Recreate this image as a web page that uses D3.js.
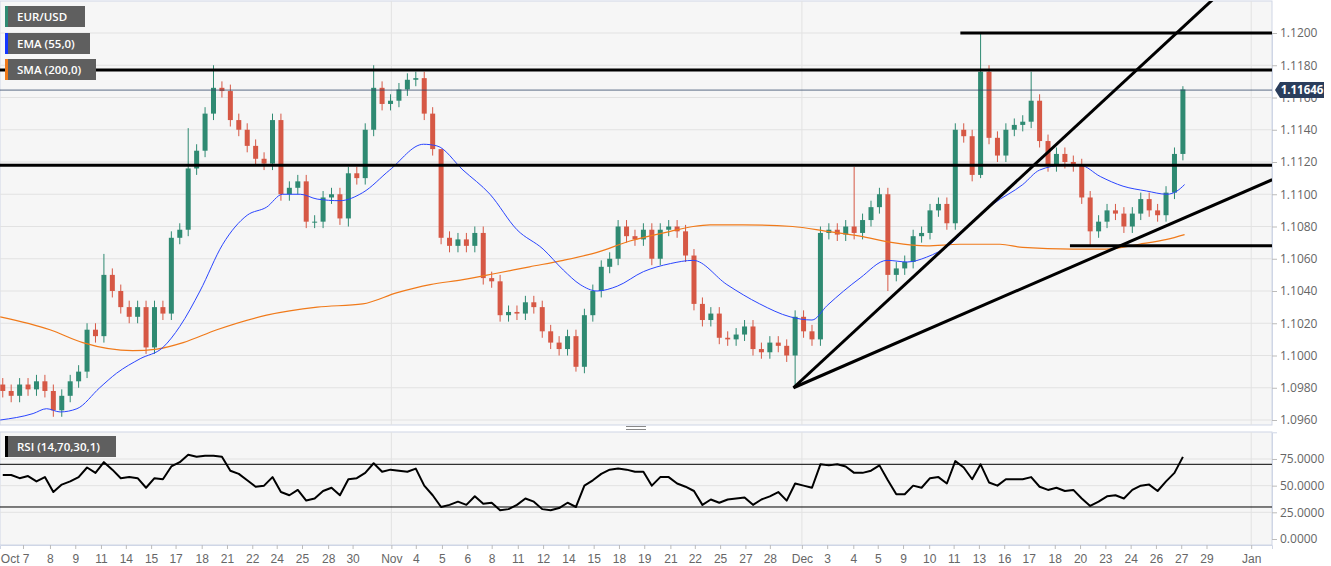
<!DOCTYPE html>
<html><head><meta charset="utf-8">
<script src="https://cdn.jsdelivr.net/npm/d3@7"></script>
<style>
body{margin:0;background:#fff;font-family:"Open Sans",Arial,sans-serif}
</style></head>
<body><div id="chart"></div>
<script>
// candle closes, one per bar (open = previous close)
const closes = [1.0978,1.0975,1.0982,1.0979,1.0984,1.0978,1.0966,1.0975,1.0984,1.0990,
1.1016,1.1012,1.1050,1.1040,1.1030,1.1024,1.1030,1.1005,1.1030,1.1026,
1.1073,1.1078,1.1116,1.1127,1.1150,1.1166,1.1164,1.1146,1.1140,1.1130,
1.1122,1.1119,1.1146,1.1100,1.1104,1.1108,1.1083,1.1083,1.1098,1.1100,
1.1085,1.1113,1.1110,1.1140,1.1166,1.1156,1.1158,1.1165,1.1171,1.1172,
1.1150,1.1128,1.1073,1.1068,1.1072,1.1068,1.1076,1.1048,1.1046,1.1025,
1.1027,1.1026,1.1033,1.1030,1.1015,1.1008,1.1004,1.1012,1.0993,1.1025,
1.1040,1.1055,1.1060,1.1080,1.1074,1.1072,1.1078,1.1060,1.1078,1.1080,
1.1077,1.1062,1.1032,1.1022,1.1026,1.1011,1.1010,1.1013,1.1018,1.1004,
1.1002,1.1008,1.1006,1.1000,1.1024,1.1015,1.1010,1.1076,1.1078,1.1075,
1.1080,1.1076,1.1084,1.1092,1.1100,1.1050,1.1054,1.1058,1.1074,1.1076,
1.1090,1.1094,1.1082,1.1140,1.1136,1.1112,1.1176,1.1135,1.1124,1.1140,
1.1143,1.1145,1.1158,1.1133,1.1118,1.1125,1.1120,1.1118,1.1098,1.1077,
1.1083,1.1090,1.1088,1.1080,1.1088,1.1097,1.1090,1.1087,1.1101,1.1125,1.1165];
const firstOpen = 1.0982;
// long wicks: [bar, high, low]
const wicks = [[12,1.1063,null],[22,1.1141,null],[25,1.1180,null],[41,null,1.1080],[44,1.1180,null],
[52,1.1120,null],[68,null,1.0990],[94,null,1.0980],[101,1.1117,null],[105,null,1.1040],
[116,1.1200,1.1110],[122,1.1176,null],[129,null,1.1068],[140,1.1167,null]];

const rsi = [60,60,57,59,54,58,44,51,54,58,67,62,72,65,57,58,57,48,57,56,
68,72,79,77,78,78,77,64,61,55,49,50,58,44,41,46,36,38,45,48,
41,56,57,62,71,63,65,64,63,66,50,41,30,32,35,32,40,33,34,27,
28,32,38,35,28,27,29,34,30,50,55,61,65,66,65,63,63,50,58,58,
52,49,45,32,37,34,37,38,39,32,37,40,44,36,52,50,48,70,69,70,
68,62,62,64,69,55,42,42,50,48,57,58,52,73,67,56,70,53,50,56,
56,56,58,49,46,48,45,46,38,31,35,40,41,38,46,50,51,45,54,62,77];

// moving averages: [bar, value]
const ema55 = [[-0.3,1.0960],[3.6,1.0964],[5.2,1.0967],[6.8,1.0965],[8.8,1.0967],[11.5,1.0980],[13.5,1.0989],
[16.3,1.0998],[19,1.1005],[21,1.1018],[23.4,1.1040],[26.1,1.1069],[29,1.1087],[31.3,1.1092],[33.2,1.1100],
[35.3,1.1100],[37.3,1.1097],[40,1.1096],[42.7,1.1101],[45.9,1.1115],[49.9,1.1131],[51.5,1.1130],[54.6,1.1115],
[57.8,1.1100],[61,1.1078],[64.1,1.1066],[66.5,1.1053],[68.5,1.1044],[70.5,1.1040],[72.9,1.1043],[76,1.1052],
[79.2,1.1057],[81.9,1.1059],[85.9,1.1044],[89.8,1.1032],[93.4,1.1024],[96,1.1022],[97.8,1.1031],[101.7,1.1048],
[104.9,1.1059],[107.3,1.1058],[109.6,1.1061],[112.4,1.1069],[115.6,1.1086],[117.5,1.1094],[121,1.1106],
[123,1.1115],[125.8,1.1118],[127.8,1.1118],[130.2,1.1111],[132.9,1.1105],[135.7,1.1102],[138.1,1.1100],
[139.3,1.1102],[140.2,1.1106]];
const sma200 = [[-0.3,1.1024],[5.6,1.1016],[9.5,1.1008],[15.4,1.1003],[18.3,1.1004],[21.4,1.1008],[25.4,1.1016],
[31.3,1.1025],[37.3,1.1030],[42.7,1.1032],[46.8,1.1039],[50.7,1.1044],[54.6,1.1047],[58.6,1.1051],[62.5,1.1055],
[66.5,1.1059],[70.5,1.1064],[74.4,1.1071],[79.2,1.1077],[81.9,1.1080],[83.9,1.1081],[87.8,1.1081],[93.7,1.1080],
[97.8,1.1077],[101.7,1.1074],[105.6,1.1070],[109.6,1.1068],[113.5,1.1069],[118.3,1.1069],[121,1.1067],
[126.9,1.1066],[130.9,1.1066],[134.8,1.1069],[138.1,1.1072],[140.2,1.1075]];

const tickPos = [2.4,5.6,8.6,11.65,14.6,17.6,20.5,23.6,26.6,29.6,32.5,35.5,38.6,41.5,46.1,49,52.1,55.1,58,61.1,
64.1,67.1,70.1,73.1,76.1,79.2,82.1,85.1,88.1,91,94.8,97.8,100.9,103.8,106.8,109.9,112.8,115.8,118.8,121.7,
124.8,127.8,130.8,133.8,136.8,139.8,142.8,148.1];
const tickLab = ['Oct 7','8','9','11','14','15','17','18','21','22','24','25','28','30','Nov','4','5','6','8','11',
'12','14','15','18','19','21','22','25','27','28','Dec','3','4','5','9','10','11','13','16','17',
'18','20','23','24','26','27','29','Jan'];
const monthTicks = [46.1,94.8,148.1];
const priceTicks = [1.0960,1.0980,1.1000,1.1020,1.1040,1.1060,1.1080,1.1100,1.1120,1.1140,1.1160,1.1180,1.1200];
const rsiTicks = [0,25,50,75];

// drawn support / resistance
const hLines = [[-0.4,1.1177],[-0.4,1.1118],[113.6,1.1200],[126.6,1.1068]];
const trendLines = [[[93.8,1.0980],[143.8,1.1222]],[[93.8,1.0980],[150.6,1.1109]]];
const lastPrice = 1.11646;

const W = 1331, H = 566, PR = 1272;
const svg = d3.select('#chart').append('svg').attr('width', W).attr('height', H);
const x = d3.scaleLinear().domain([-0.327, 150.57]).range([0, PR]);
const y = d3.scaleLinear().domain([1.0960, 1.1200]).range([420, 33]);
const yr = d3.scaleLinear().domain([0, 100]).range([539, 432.3]);

const main = {t: 1, b: 425}, sub = {t: 432, b: 545};
[main, sub].forEach(p => {
  svg.append('rect').attr('x', 0).attr('y', p.t).attr('width', PR).attr('height', p.b - p.t)
    .attr('fill', '#f6f6f6').attr('stroke', '#cfd6e6');
});
svg.append('clipPath').attr('id', 'cm').append('rect').attr('x', 0).attr('y', main.t).attr('width', PR).attr('height', main.b - main.t);
svg.append('clipPath').attr('id', 'cr').append('rect').attr('x', 0).attr('y', sub.t).attr('width', PR).attr('height', sub.b - sub.t);

// grid
const g = svg.append('g');
g.selectAll('.gy').data(priceTicks).join('line').attr('x1', 0).attr('x2', PR)
  .attr('y1', d => y(d)).attr('y2', d => y(d)).attr('stroke', '#e2e2e2');
g.selectAll('.gr').data(rsiTicks.slice(1)).join('line').attr('x1', 0).attr('x2', PR)
  .attr('y1', d => yr(d)).attr('y2', d => yr(d)).attr('stroke', '#e2e2e2');
monthTicks.forEach(m => {
  [main, sub].forEach(p => g.append('line').attr('x1', x(m)).attr('x2', x(m)).attr('y1', p.t).attr('y2', p.b).attr('stroke', '#e2e2e2'));
});

// candles
const bars = closes.map((c, i) => {
  const o = i ? closes[i - 1] : firstOpen;
  let h = Math.max(o, c) + 0.0004, l = Math.min(o, c) - 0.0004;
  const w = wicks.find(d => d[0] === i);
  if (w) { if (w[1]) h = w[1]; if (w[2]) l = w[2]; }
  return {i, o, c, h, l};
});
const cg = svg.append('g').attr('clip-path', 'url(#cm)');
const col = d => d.c >= d.o ? '#2f8a72' : '#d65845';
cg.selectAll('.wk').data(bars).join('line')
  .attr('x1', d => x(d.i)).attr('x2', d => x(d.i)).attr('y1', d => y(d.h)).attr('y2', d => y(d.l))
  .attr('stroke', col).attr('stroke-width', 1);
cg.selectAll('.bd').data(bars).join('rect')
  .attr('x', d => x(d.i) - 2.5).attr('width', 5)
  .attr('y', d => y(Math.max(d.o, d.c))).attr('height', d => Math.max(1, Math.abs(y(d.o) - y(d.c))))
  .attr('fill', col);

const ln = d3.line().x(d => x(d[0])).y(d => y(d[1])).curve(d3.curveMonotoneX);
cg.append('path').attr('d', ln(sma200)).attr('fill', 'none').attr('stroke', '#f07a1a').attr('stroke-width', 1.2);
cg.append('path').attr('d', ln(ema55)).attr('fill', 'none').attr('stroke', '#2a45ff').attr('stroke-width', 1);

// last price line
cg.append('line').attr('x1', 0).attr('x2', PR).attr('y1', y(lastPrice)).attr('y2', y(lastPrice))
  .attr('stroke', '#34496a').attr('stroke-width', 0.8);

// drawings
const dl = d3.line().x(d => x(d[0])).y(d => y(d[1]));
hLines.forEach(h => cg.append('line').attr('x1', x(h[0])).attr('x2', PR).attr('y1', y(h[1])).attr('y2', y(h[1]))
  .attr('stroke', '#000').attr('stroke-width', 3));
trendLines.forEach(t => cg.append('path').attr('d', dl(t)).attr('stroke', '#000').attr('stroke-width', 3).attr('fill', 'none'));

// rsi
const rg = svg.append('g').attr('clip-path', 'url(#cr)');
[70, 30].forEach(v => rg.append('line').attr('x1', 0).attr('x2', PR).attr('y1', yr(v)).attr('y2', yr(v)).attr('stroke', '#000').attr('stroke-width', 1));
rg.append('path').attr('d', d3.line().x((d, i) => x(i)).y(d => yr(d))(rsi))
  .attr('fill', 'none').attr('stroke', '#000').attr('stroke-width', 2).attr('stroke-linejoin', 'round');

// right axes
const ay = svg.append('g').attr('transform', `translate(${PR},0)`)
  .call(d3.axisRight(y).tickValues(priceTicks).tickFormat(d3.format('.4f')).tickSize(5));
const ar = svg.append('g').attr('transform', `translate(${PR},0)`)
  .call(d3.axisRight(yr).tickValues(rsiTicks).tickFormat(d3.format('.4f')).tickSize(5));
[ay, ar].forEach(a => {
  a.select('.domain').attr('stroke', '#cfd6e6');
  a.selectAll('line').attr('stroke', '#bbb');
  a.selectAll('text').attr('fill', '#666').attr('font-size', 12).attr('font-family', 'Open Sans, Arial');
});

// bottom axis
const ax = svg.append('g').attr('transform', `translate(0,${sub.b})`)
  .call(d3.axisBottom(x).tickValues(tickPos).tickFormat((d, i) => tickLab[i]).tickSize(4));
ax.select('.domain').attr('stroke', '#cfd6e6');
ax.selectAll('line').attr('stroke', '#bbb');
ax.selectAll('text').attr('fill', '#666').attr('font-size', 12).attr('dy', '0.9em');
ax.selectAll('.tick').filter((d, i) => i === 0).select('text').attr('text-anchor', 'end').attr('dx', '0.5em');

// price tag
const ty = y(lastPrice);
svg.append('path').attr('d', `M${PR + 3},${ty} L${PR + 8},${ty - 8} L${PR + 52},${ty - 8} L${PR + 52},${ty + 8} L${PR + 8},${ty + 8} Z`)
  .attr('fill', '#2a3d5c');
svg.append('text').attr('x', PR + 30).attr('y', ty + 4).attr('text-anchor', 'middle')
  .attr('fill', '#fff').attr('font-size', 11.5).attr('font-weight', 'bold').text(lastPrice.toFixed(5));

// legend chips
const chips = [['EUR/USD', '#2f8a72', 6, 80], ['EMA (55,0)', '#1436ff', 33, 85], ['SMA (200,0)', '#f07a1a', 59, 91], ['RSI (14,70,30,1)', '#000', 436, 111]];
chips.forEach(([t, c, cy, w]) => {
  svg.append('rect').attr('x', 5).attr('y', cy).attr('width', w).attr('height', 21).attr('fill', '#5f5f5f');
  svg.append('rect').attr('x', 5).attr('y', cy).attr('width', 3).attr('height', 21).attr('fill', c);
  svg.append('text').attr('x', 17).attr('y', cy + 15).attr('fill', '#fff').attr('font-size', 11.5)
    .attr('font-weight', 600).text(t);
});
// panel splitter handle
[0, 3].forEach(o => svg.append('line').attr('x1', 626).attr('x2', 646).attr('y1', 426.5 + o).attr('y2', 426.5 + o).attr('stroke', '#888'));
</script></body></html>
